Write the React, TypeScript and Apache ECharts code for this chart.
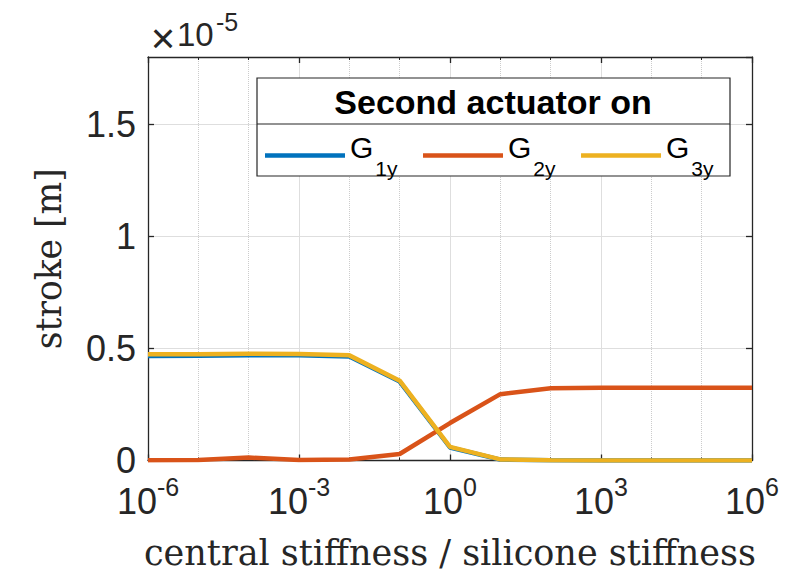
import React, { useEffect, useRef } from "react";
import * as echarts from "echarts";

// stiffness ratio (central / silicone), one point per decade
const stiffnessRatio = [1e-6, 1e-5, 1e-4, 1e-3, 1e-2, 1e-1, 1, 1e1, 1e2, 1e3, 1e4, 1e5, 1e6];
// stroke in units of 1e-5 m
const g1y = [0.466, 0.467, 0.47, 0.469, 0.464, 0.352, 0.058, 0.004, 0.001, 0, 0, 0, 0];
const g2y = [0.001, 0.002, 0.013, 0.002, 0.004, 0.029, 0.167, 0.296, 0.322, 0.325, 0.325, 0.325, 0.325];
const g3y = [0.474, 0.474, 0.476, 0.475, 0.469, 0.356, 0.061, 0.005, 0.001, 0, 0, 0, 0];
const seriesNames = ["G1y", "G2y", "G3y"];
const seriesColors = ["#0072BD", "#D95319", "#EDB120"];
const legendTitle = "Second actuator on";
const xName = "central stiffness / silicone stiffness";
const yName = "stroke [m]";

const SANS = "Liberation Sans, Arial, Helvetica, sans-serif";
const SERIF = "DejaVu Serif, serif";
const AXIS = "#262626";

export default function App() {
  const ref = useRef<HTMLDivElement>(null);
  useEffect(() => {
    document.body.style.margin = "0";
    const chart = echarts.init(ref.current!, null, { renderer: "svg" });
    const toPts = (vals: number[]) => vals.map((v, i) => [Math.log10(stiffnessRatio[i]), v]);
    const xCommon = {
      type: "value" as const,
      min: -6,
      max: 6,
      interval: 3,
      axisLine: { show: true, onZero: false, lineStyle: { color: AXIS, width: 1.3 } },
      axisTick: { show: true, inside: true, length: 6, lineStyle: { color: AXIS, width: 1.3 } },
      minorTick: { show: true, splitNumber: 3, length: 3, lineStyle: { color: AXIS, width: 1 } },
    };
    const yCommon = {
      type: "value" as const,
      min: 0,
      max: 1.8,
      interval: 0.5,
      axisLine: { show: true, onZero: false, lineStyle: { color: AXIS, width: 1.3 } },
      axisTick: { show: true, inside: true, length: 6, lineStyle: { color: AXIS, width: 1.3 } },
    };
    const txt = (text: string, x: number, y: number, size: number, align = "left") => ({
      type: "text",
      z: 6,
      x,
      y,
      style: {
        text,
        fontSize: size,
        fontFamily: SANS,
        fill: AXIS,
        align,
        verticalAlign: "middle",
        textAlign: align,
        textVerticalAlign: "middle",
      },
    });
    chart.setOption({
      animation: false,
      backgroundColor: "#ffffff",
      grid: { left: 148, right: 33, top: 57, bottom: 113.5, containLabel: false, outerBoundsMode: "none" },
      xAxis: [
        {
          ...xCommon,
          position: "bottom",
          splitLine: { show: true, lineStyle: { color: "#dedede", width: 1 } },
          minorSplitLine: { show: true, lineStyle: { color: "#cccccc", width: 1, type: "dotted" } },
          axisLabel: {
            margin: 8,
            formatter: (v: number) => `{b|10}{s|${v}}`,
            rich: {
              b: { fontSize: 36, fontFamily: SANS, color: AXIS, lineHeight: 50, verticalAlign: "top", padding: [15, 0, 0, 0] },
              s: { fontSize: 25, fontFamily: SANS, color: AXIS, lineHeight: 50, verticalAlign: "top", padding: [6, 0, 0, 0] },
            },
          },
          name: xName,
          nameLocation: "middle",
          nameGap: 75,
          nameTextStyle: { fontFamily: SERIF, fontSize: 35, color: AXIS },
        },
        {
          ...xCommon,
          position: "top",
          axisLabel: { show: false },
          splitLine: { show: false },
        },
      ],
      yAxis: [
        {
          ...yCommon,
          position: "left",
          splitLine: { show: true, lineStyle: { color: "#dedede", width: 1 } },
          axisLabel: {
            margin: 12,
            fontSize: 36,
            fontFamily: SANS,
            color: AXIS,
            showMaxLabel: false,
            formatter: (v: number) => (v > 1.6 ? "" : String(Math.round(v * 10) / 10)),
          },
          name: yName,
          nameLocation: "middle",
          nameGap: 82,
          nameTextStyle: { fontFamily: SERIF, fontSize: 34.5, color: AXIS },
        },
        {
          ...yCommon,
          position: "right",
          axisLabel: { show: false },
          splitLine: { show: false },
        },
      ],
      legend: {
        left: 265,
        top: 132.5,
        padding: 0,
        orient: "horizontal",
        icon: "rect",
        itemWidth: 80,
        itemHeight: 4.5,
        itemGap: 25.5,
        selectedMode: false,
        z: 10,
        data: seriesNames,
        formatter: (name: string) => `{g|${name.charAt(0)}}{s|${name.slice(1)}}`,
        textStyle: {
          rich: {
            g: { fontSize: 30, fontFamily: SANS, color: "#000", lineHeight: 46, verticalAlign: "top", padding: [0, 0, 0, 0] },
            s: { fontSize: 21, fontFamily: SANS, color: "#000", lineHeight: 46, verticalAlign: "top", padding: [25, 0, 0, 2] },
          },
        },
      },
      graphic: [
        {
          type: "rect",
          z: 5,
          shape: { x: 257, y: 78, width: 473, height: 98 },
          style: { fill: "#ffffff", stroke: AXIS, lineWidth: 1.2 },
        },
        {
          type: "line",
          z: 6,
          shape: { x1: 257, y1: 124, x2: 730, y2: 124 },
          style: { stroke: AXIS, lineWidth: 1.2 },
        },
        {
          type: "text",
          z: 6,
          x: 493,
          y: 102,
          style: {
            text: legendTitle,
            fontSize: 34,
            fontWeight: "bold",
            fontFamily: SANS,
            fill: "#000",
            align: "center",
            verticalAlign: "middle",
            textAlign: "center",
            textVerticalAlign: "middle",
          },
        },
        txt("×", 163, 38, 42, "center"),
        txt("10", 177, 34, 33),
        txt("-5", 216, 22, 25),
      ],
      series: [g1y, g2y, g3y].map((vals, i) => ({
        name: seriesNames[i],
        type: "line",
        xAxisIndex: 0,
        yAxisIndex: 0,
        data: toPts(vals),
        symbol: "none",
        showSymbol: false,
        smooth: false,
        color: seriesColors[i],
        lineStyle: { color: seriesColors[i], width: 4.5 },
        z: 2 + i,
      })),
    });
    return () => chart.dispose();
  }, []);
  return <div ref={ref} style={{ width: 785, height: 574 }} />;
}
